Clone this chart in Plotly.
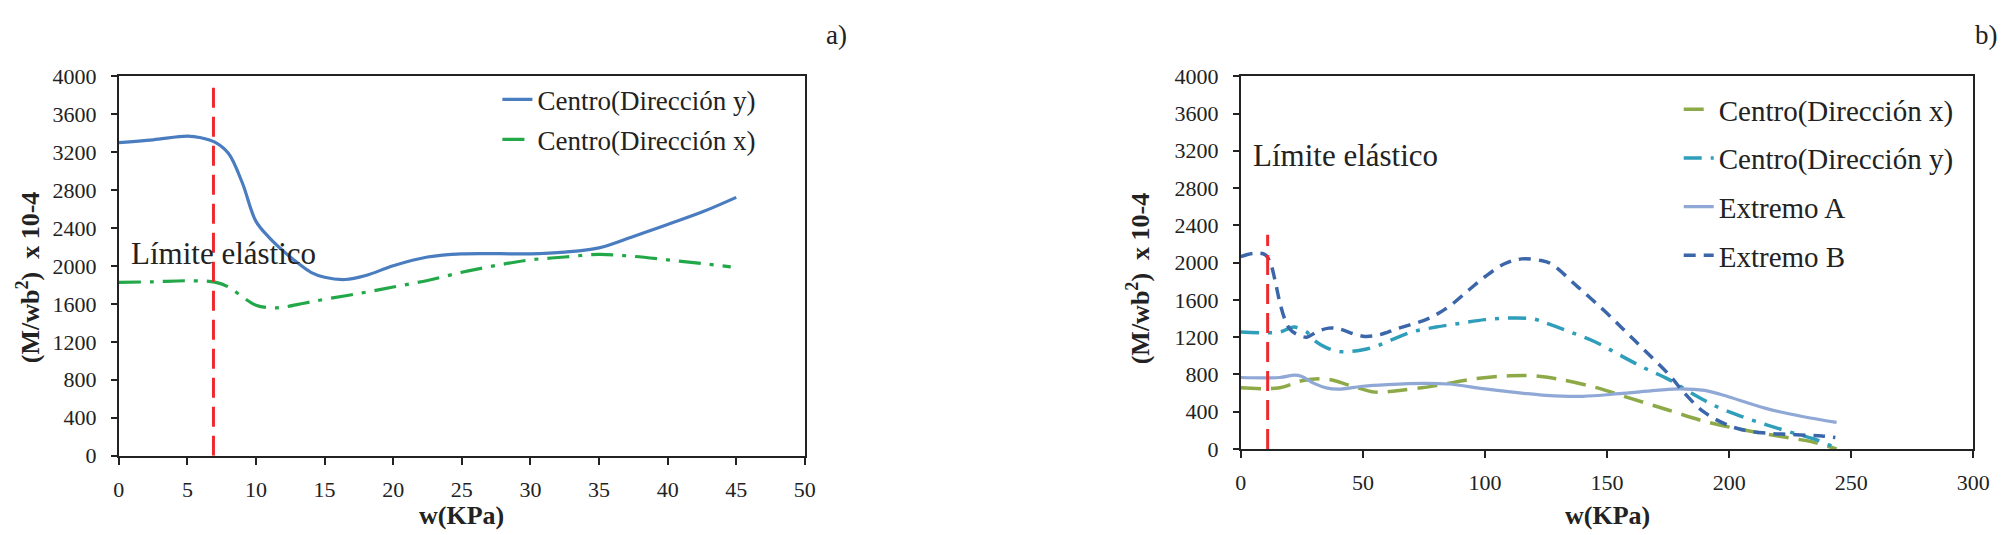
import plotly.graph_objects as go

W, H = 2009, 535

# ---------- data: chart a) ----------
a_x_centro_y = [0, 2.5, 5, 6, 7, 8, 9, 10, 11, 12, 13, 14, 15, 16.5, 18, 20, 22.5, 25, 30, 32.5, 35, 37.5, 40, 42.5, 45]
a_centro_y = [3300, 3330, 3368, 3351, 3306, 3186, 2877, 2470, 2294, 2156, 2036, 1933, 1881, 1857, 1899, 2002, 2094, 2128, 2128, 2146, 2190, 2311, 2438, 2568, 2723]
a_x_centro_x = [0, 2.5, 5, 7, 8, 9, 10, 11, 12, 13.5, 15, 17.5, 20, 22.5, 25, 27.5, 30, 32.5, 35, 37.5, 40, 42.5, 44.6]
a_centro_x = [1827, 1833, 1844, 1830, 1778, 1675, 1586, 1559, 1566, 1607, 1648, 1710, 1778, 1847, 1933, 2005, 2064, 2094, 2122, 2101, 2064, 2026, 1991]
a_limite_x = [6.9, 6.9]
a_limite_y = [0, 3970]

# ---------- data: chart b) ----------
b_x_centro_x = [0, 16, 25, 35, 45, 55, 65, 80, 95, 110, 120, 130, 145, 160, 175, 190, 205, 220, 235, 244]
b_centro_x = [656, 656, 732, 750, 680, 610, 628, 680, 750, 785, 785, 750, 662, 540, 418, 296, 209, 139, 70, 0]
b_x_centro_y = [0, 16, 20, 22, 27, 30, 35, 40, 45, 50, 55, 60, 70, 80, 90, 100, 110, 120, 126, 135, 145, 155, 165, 175, 185, 195, 205, 215, 225, 235, 244]
b_centro_y = [1255, 1255, 1297, 1308, 1255, 1168, 1088, 1046, 1046, 1064, 1098, 1151, 1255, 1308, 1349, 1388, 1405, 1395, 1342, 1255, 1151, 1011, 872, 750, 593, 453, 349, 262, 181, 105, 7]
b_x_ext_a = [0, 16, 22, 25, 30, 35, 40, 50, 60, 75, 85, 100, 115, 125, 140, 155, 170, 180, 190, 200, 215, 230, 244]
b_ext_a = [767, 767, 792, 778, 704, 656, 642, 673, 690, 704, 697, 645, 600, 575, 565, 593, 628, 645, 628, 558, 436, 349, 286]
b_x_ext_b = [0, 5, 10, 12, 14, 16, 18, 20, 23, 27, 31, 36, 40, 50, 57, 64, 77, 85.5, 93.5, 100, 108, 115, 123, 127, 138, 149, 158, 166.5, 176, 181, 189.5, 200, 208, 216.5, 224.6, 232.7, 238, 243.5]
b_ext_b = [2064, 2099, 2085, 2005, 1813, 1569, 1395, 1290, 1230, 1200, 1255, 1297, 1290, 1210, 1227, 1290, 1402, 1534, 1709, 1848, 1988, 2040, 2022, 1988, 1740, 1480, 1250, 1030, 780, 620, 400, 250, 192, 167, 157, 146, 139, 122]
b_limite_x = [11, 11]
b_limite_y = [0, 2300]

y_ticks = [0, 400, 800, 1200, 1600, 2000, 2400, 2800, 3200, 3600, 4000]
a_x_ticks = [0, 5, 10, 15, 20, 25, 30, 35, 40, 45, 50]
b_x_ticks = [0, 50, 100, 150, 200, 250, 300]

FONT = "'Liberation Serif', 'Times New Roman', 'DejaVu Serif', serif"
RED = "#EE2A2E"

fig = go.Figure()

# chart a
fig.add_trace(go.Scatter(x=a_x_centro_y, y=a_centro_y, mode="lines", name="Centro(Dirección y)",
                         line=dict(color="#4A7CC0", width=3.2, shape="spline"),
                         xaxis="x", yaxis="y", legend="legend", legendgroup="a1"))
fig.add_trace(go.Scatter(x=a_x_centro_x, y=a_centro_x, mode="lines", name="Centro(Dirección x)",
                         line=dict(color="#22A848", width=3.2, shape="spline", dash="22px,9px,4px,9px"),
                         xaxis="x", yaxis="y", legend="legend", legendgroup="a2"))
fig.add_trace(go.Scatter(x=a_limite_x, y=a_limite_y, mode="lines", showlegend=False,
                         line=dict(color=RED, width=3, dash="20px,9px"), xaxis="x", yaxis="y"))

# chart b
fig.add_trace(go.Scatter(x=b_x_centro_x, y=b_centro_x, mode="lines", name="Centro(Dirección x)",
                         line=dict(color="#8EAA48", width=3.5, shape="spline", dash="20px,10px"),
                         xaxis="x2", yaxis="y2", legend="legend2", legendgroup="b1"))
fig.add_trace(go.Scatter(x=b_x_centro_y, y=b_centro_y, mode="lines", name="Centro(Dirección y)",
                         line=dict(color="#2F9EBB", width=3.5, shape="spline", dash="18px,9px,4px,9px"),
                         xaxis="x2", yaxis="y2", legend="legend2", legendgroup="b2"))
fig.add_trace(go.Scatter(x=b_x_ext_a, y=b_ext_a, mode="lines", name="Extremo A",
                         line=dict(color="#8FA8D6", width=3.2, shape="spline"),
                         xaxis="x2", yaxis="y2", legend="legend2", legendgroup="b3"))
fig.add_trace(go.Scatter(x=b_x_ext_b, y=b_ext_b, mode="lines", name="Extremo B",
                         line=dict(color="#3B66AA", width=3.5, shape="spline", dash="12px,8px"),
                         xaxis="x2", yaxis="y2", legend="legend2", legendgroup="b4"))
fig.add_trace(go.Scatter(x=b_limite_x, y=b_limite_y, mode="lines", showlegend=False,
                         line=dict(color=RED, width=3, dash="20px,9px"), xaxis="x2", yaxis="y2"))

def px_x(p):
    return p / W

def px_y(p):
    return 1 - p / H

axis_common = dict(showgrid=False, zeroline=False, showline=True, linecolor="#222", linewidth=2,
                   mirror=True, ticks="outside", tickcolor="#222", tickwidth=2,
                   tickfont=dict(family=FONT, size=22, color="#222"))

fig.update_layout(
    width=W, height=H, margin=dict(l=0, r=0, t=0, b=0),
    paper_bgcolor="white", plot_bgcolor="white",
    font=dict(family=FONT, color="#222"),
    xaxis=dict(domain=[px_x(106), px_x(800)], range=[0, 50], tickvals=a_x_ticks, ticklen=7,
               ticklabelstandoff=6, anchor="y", **axis_common),
    yaxis=dict(domain=[px_y(457), px_y(59)], range=[0, 4000], tickvals=y_ticks, ticklen=6,
               ticklabelstandoff=10, anchor="x", **axis_common),
    xaxis2=dict(domain=[px_x(1241), px_x(1982)], range=[0, 300], tickvals=b_x_ticks, ticklen=7,
                ticklabelstandoff=6, anchor="y2", **axis_common),
    yaxis2=dict(domain=[px_y(450), px_y(59)], range=[0, 4000], tickvals=y_ticks, ticklen=6,
                ticklabelstandoff=10, anchor="x2", **axis_common),
    legend=dict(x=px_x(489), y=px_y(58), xanchor="left", yanchor="top",
                font=dict(family=FONT, size=27, color="#222"), bgcolor="rgba(0,0,0,0)",
                traceorder="grouped", tracegroupgap=2),
    legend2=dict(x=px_x(1684), y=px_y(67), xanchor="left", yanchor="top",
                 font=dict(family=FONT, size=29, color="#222"), bgcolor="rgba(0,0,0,0)",
                 traceorder="grouped", tracegroupgap=8),
    showlegend=True,
)

ann_font = dict(family=FONT, size=31, color="#222")
title_font = dict(family=FONT, size=26, color="#222")
fig.add_annotation(x=0.77, y=2130, xref="x", yref="y", text="Límite elástico", showarrow=False,
                   xanchor="left", yanchor="middle", font=ann_font)
fig.add_annotation(x=4.3, y=3150, xref="x2", yref="y2", text="Límite elástico", showarrow=False,
                   xanchor="left", yanchor="middle", font=ann_font)
fig.add_annotation(x=px_x(453), y=px_y(520), xref="paper", yref="paper", text="<b>w(KPa)</b>",
                   showarrow=False, xanchor="center", yanchor="middle", font=title_font)
fig.add_annotation(x=px_x(1612), y=px_y(520), xref="paper", yref="paper", text="<b>w(KPa)</b>",
                   showarrow=False, xanchor="center", yanchor="middle", font=title_font)
fig.add_annotation(x=px_x(15), y=px_y(270), xref="paper", yref="paper",
                   text="<b>(M/wb<sup>2</sup>)  x 10-4</b>", textangle=-90,
                   showarrow=False, xanchor="center", yanchor="middle", font=title_font)
fig.add_annotation(x=px_x(1137), y=px_y(271), xref="paper", yref="paper",
                   text="<b>(M/wb<sup>2</sup>)  x 10-4</b>", textangle=-90,
                   showarrow=False, xanchor="center", yanchor="middle", font=title_font)
fig.add_annotation(x=px_x(832), y=px_y(16), xref="paper", yref="paper", text="a)",
                   showarrow=False, xanchor="center", yanchor="middle",
                   font=dict(family=FONT, size=27, color="#222"))
fig.add_annotation(x=px_x(1995), y=px_y(16), xref="paper", yref="paper", text="b)",
                   showarrow=False, xanchor="center", yanchor="middle",
                   font=dict(family=FONT, size=27, color="#222"))

fig.write_html("out.html")
